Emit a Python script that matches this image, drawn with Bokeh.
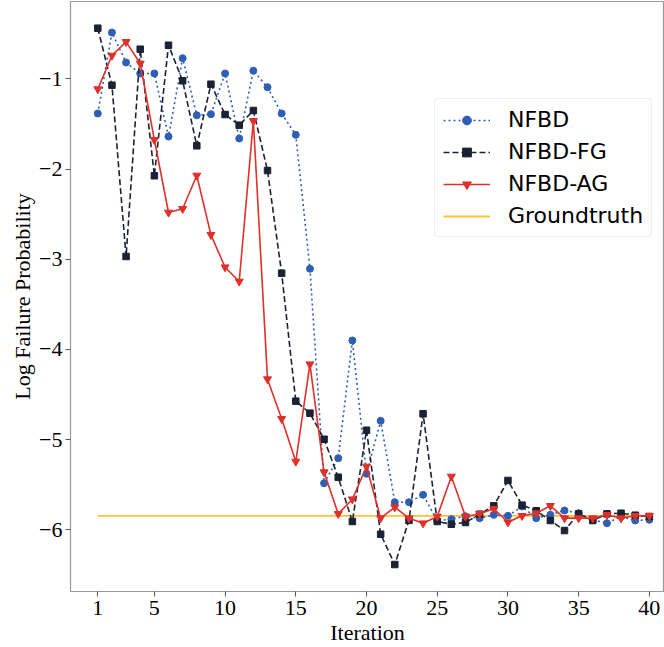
from bokeh.plotting import figure
from bokeh.models import Range1d, FixedTicker, Legend, LegendItem
from bokeh.embed import file_html
from bokeh.resources import INLINE

iterations = list(range(1, 41))

nfbd = [-1.385, -0.487, -0.819, -0.941, -0.941, -1.640, -0.772, -1.404, -1.392, -0.941,
        -1.662, -0.911, -1.093, -1.385, -1.621, -3.106, -5.483, -5.206, -3.901, -5.379,
        -4.792, -5.694, -5.694, -5.612, -5.900, -5.882, -5.850, -5.871, -5.834, -5.845,
        -5.742, -5.871, -5.834, -5.786, -5.816, -5.890, -5.927, -5.852, -5.897, -5.889]

nfbd_fg = [-0.439, -1.071, -2.970, -0.672, -2.075, -0.628, -1.022, -1.743, -1.060, -1.396,
           -1.514, -1.351, -2.017, -3.155, -4.574, -4.707, -4.996, -5.417, -5.908, -4.896,
           -6.049, -6.385, -5.895, -4.714, -5.908, -5.938, -5.919, -5.827, -5.734, -5.453,
           -5.727, -5.789, -5.897, -6.008, -5.823, -5.897, -5.823, -5.816, -5.838, -5.852]

nfbd_ag = [-1.114, -0.742, -0.590, -0.830, -1.676, -2.482, -2.441, -2.072, -2.730, -3.089,
           -3.247, -1.466, -4.330, -4.769, -5.243, -4.164, -5.361, -5.823, -5.661, -5.298,
           -5.871, -5.749, -5.871, -5.927, -5.852, -5.409, -5.852, -5.823, -5.767, -5.916,
           -5.845, -5.816, -5.734, -5.871, -5.871, -5.871, -5.834, -5.871, -5.845, -5.845]

groundtruth = -5.845

x_ticks = [1, 5, 10, 15, 20, 25, 30, 35, 40]
y_ticks = [-1, -2, -3, -4, -5, -6]
y_tick_labels = {v: "\u2212" + str(abs(v)) for v in y_ticks}

p = figure(width=664, height=647, output_backend="svg", toolbar_location=None,
           x_range=Range1d(-0.93, 41.07), y_range=Range1d(-6.684, -0.143),
           min_border_left=70, min_border_right=0, min_border_top=1, min_border_bottom=56)

p.background_fill_color = "white"
p.border_fill_color = "white"
p.outline_line_color = "#999999"
p.outline_line_width = 1.2
p.grid.visible = False

BLUE = "#2F5FB5"
NAVY = "#1B2233"
RED = "#E0302A"
GOLD = "#FFC233"

gt_r = p.line([iterations[0], iterations[-1]], [groundtruth, groundtruth], line_color=GOLD, line_width=1.8)

b_l = p.line(iterations, nfbd, line_color=BLUE, line_width=1.6, line_dash="2 3")
b_m = p.scatter(iterations, nfbd, marker="circle", size=7, fill_color=BLUE, line_color=BLUE)

k_l = p.line(iterations, nfbd_fg, line_color=NAVY, line_width=1.6, line_dash="6 3")
k_m = p.scatter(iterations, nfbd_fg, marker="square", size=6.5, fill_color=NAVY, line_color=NAVY)

r_l = p.line(iterations, nfbd_ag, line_color=RED, line_width=1.6)
r_m = p.scatter(iterations, nfbd_ag, marker="inverted_triangle", size=8, fill_color=RED, line_color=RED)

for ax in (p.xaxis, p.yaxis):
    ax.axis_line_color = "#999999"
    ax.major_tick_line_color = "#555555"
    ax.major_tick_out = 5
    ax.major_tick_in = 0
    ax.minor_tick_line_color = None
    ax.major_label_text_font = "Liberation Serif"
    ax.major_label_text_font_size = "22px"
    ax.major_label_text_color = "black"
    ax.axis_label_text_font = "Liberation Serif"
    ax.axis_label_text_font_size = "22px"
    ax.axis_label_text_font_style = "normal"
    ax.axis_label_text_color = "black"

p.xaxis.ticker = FixedTicker(ticks=x_ticks)
p.yaxis.ticker = FixedTicker(ticks=y_ticks)
p.yaxis.major_label_overrides = y_tick_labels
p.xaxis.axis_label = "Iteration"
p.yaxis.axis_label = "Log Failure Probability"
p.xaxis.major_label_standoff = 4
p.xaxis.axis_label_standoff = 2
p.yaxis.major_label_standoff = 3
p.yaxis.axis_label_standoff = 1

legend = Legend(items=[
    LegendItem(label="NFBD", renderers=[b_l, b_m]),
    LegendItem(label="NFBD-FG", renderers=[k_l, k_m]),
    LegendItem(label="NFBD-AG", renderers=[r_l, r_m]),
    LegendItem(label="Groundtruth", renderers=[gt_r]),
], location=(364, 354))
legend.label_text_font = "DejaVu Sans"
legend.label_text_font_size = "22px"
legend.label_text_color = "black"
legend.label_height = 22
legend.glyph_height = 22
legend.glyph_width = 47
legend.label_standoff = 18
legend.spacing = 7
legend.padding = 8
legend.margin = 0
legend.border_line_color = "#DDDDDD"
legend.border_line_width = 1
legend.background_fill_color = "white"
legend.background_fill_alpha = 0.9
legend.border_radius = 4
p.add_layout(legend, "center")

open("out.html", "w").write(file_html(p, INLINE))
